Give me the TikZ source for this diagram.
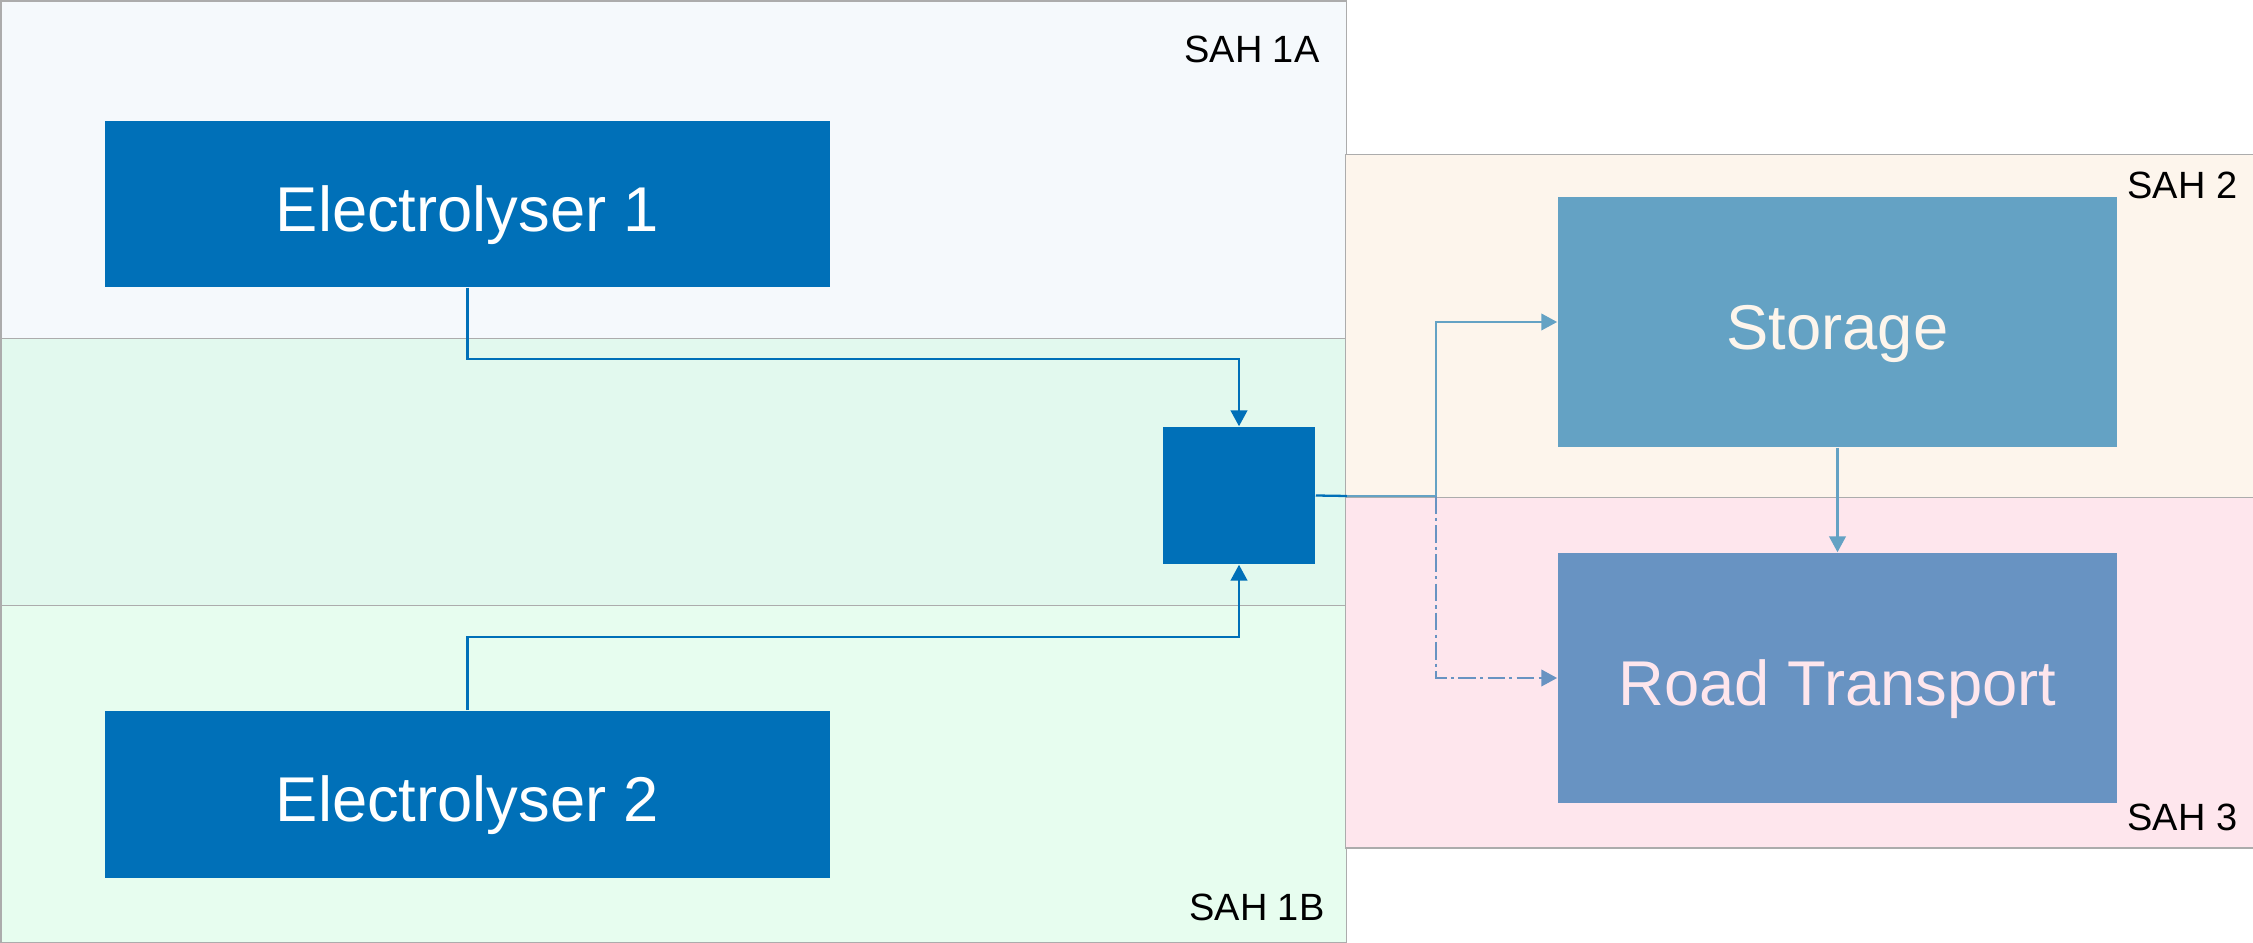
\documentclass[tikz,border=0pt]{standalone}
\usepackage{fontspec}
\setmainfont{Liberation Sans}
\usetikzlibrary{positioning,calc,arrows.meta}

\definecolor{sahA}{HTML}{F5F9FC}
\definecolor{sahMid}{HTML}{E2F9EE}
\definecolor{sahB}{HTML}{E7FDEF}
\definecolor{sahTwo}{HTML}{FDF5EC}
\definecolor{sahThree}{HTML}{FEE6ED}
\definecolor{elecblue}{HTML}{0070B8}
\definecolor{storeblue}{HTML}{64A2C4}
\definecolor{roadblue}{HTML}{6893C2}

\tikzset{
    zone/.style={draw=gray!65,line width=0.4pt,anchor=north west,inner sep=0pt},
    zonelabel/.style={inner sep=0pt,font=\fontsize{10.8}{12}\selectfont},
    unit/.style={fill=elecblue,text=white,inner sep=0pt,text height=15.5pt,text depth=0pt,font=\fontsize{18}{21}\selectfont},
    flow/.style={draw=elecblue,line width=0.65pt,-{Triangle[length=4.5pt,width=4.7pt]}},
}

\begin{document}
\begin{tikzpicture}[x=0.01cm,y=-0.01cm]

    \useasboundingbox (0,0) rectangle (2253,943);

    % areas
    \node[zone,fill=sahA,minimum width=13.445cm,minimum height=3.375cm] (Z1a) at (0.5,0.5) {};
    \node[zone,fill=sahMid,minimum width=13.445cm,minimum height=2.67cm] (Z1m) at (0.5,338) {};
    \node[zone,fill=sahB,minimum width=13.445cm,minimum height=3.37cm] (Z1b) at (0.5,605) {};
    \node[zone,fill=sahTwo,minimum width=9.07cm,minimum height=3.43cm] (Z2) at (1345,154) {};
    \node[zone,fill=sahThree,minimum width=9.07cm,minimum height=3.50cm] (Z3) at (1345,497) {};

    \node[zonelabel,anchor=north east] (L1a) at ($(Z1a.north east)+(-27,35)$) {SAH 1A};
    \node[zonelabel,anchor=south east] (L1b) at ($(Z1b.south east)+(-22,-22)$) {SAH 1B};
    \node[zonelabel,anchor=north east] (L2) at ($(Z2.north east)+(-16,17)$) {SAH 2};
    \node[zonelabel,anchor=south east] (L3) at ($(Z3.south east)+(-16,-17)$) {SAH 3};

    % units
    \node[unit,minimum width=7.25cm,minimum height=1.66cm] (elec1) at (467.5,204) {Electrolyser 1};
    \node[unit,minimum width=7.25cm,minimum height=1.67cm] (elec2) at (467.5,794.5) {Electrolyser 2};
    \node[unit,minimum width=1.52cm,minimum height=1.37cm] (junction) at (1239,495.5) {};
    \node[unit,fill=storeblue,text=sahTwo,minimum width=5.59cm,minimum height=2.50cm] (storage) at (1837.5,322) {Storage};
    \node[unit,fill=roadblue,text=sahThree,minimum width=5.59cm,minimum height=2.50cm] (road) at (1837.5,678) {Road Transport};

    % connections
    \draw[flow] (elec1.south) -- ++(0,71) -| (junction.north);
    \draw[flow] (elec2.north) -- ++(0,-73) -| (junction.south);

    \coordinate (split) at (1436,496);
    \draw[line width=0.65pt,draw=elecblue] (junction.east) -- (Z1m.east |- split);
    \draw[flow,draw=storeblue] (Z1m.east |- split) -- (split) |- (storage.west);
    \draw[flow,draw=roadblue,dash pattern=on 5pt off 1.2pt on 0.9pt off 1.2pt] (split) |- (road.west);
    \draw[flow,draw=storeblue] (storage.south) -- (road.north);

\end{tikzpicture}
\end{document}
